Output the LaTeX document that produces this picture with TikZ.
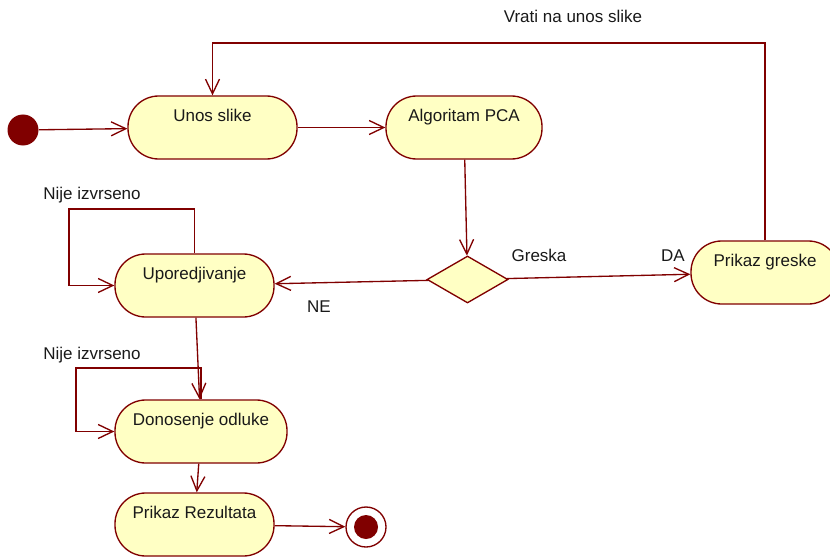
\documentclass[tikz,border=0pt]{standalone}
\usepackage{fontspec}
\setmainfont{Liberation Sans}
\usepackage{tikz}
\usetikzlibrary{arrows.meta}
\usetikzlibrary{shapes.geometric}

\definecolor{umlred}{RGB}{128,0,0}
\definecolor{umlfill}{RGB}{255,255,196}

\begin{document}
\begin{tikzpicture}
[x=0.75pt,y=-0.75pt,>={Straight Barb[length=11pt,width=10.5pt]},
 every node/.style={font=\fontsize{12.75}{15}\selectfont,text=black!90},
 act/.style={draw=umlred,fill=umlfill,line width=1pt,rounded corners=23pt,inner sep=0pt,minimum height=47.25pt,text height=19pt,text depth=28.25pt},
 cond/.style={diamond,draw=umlred,fill=umlfill,line width=1pt,inner sep=0pt,minimum width=60.75pt,minimum height=35.25pt},
 start/.style={circle,fill=umlred,inner sep=0pt,minimum size=23.25pt},
 stop/.style={circle,draw=umlred,fill=white,line width=1pt,inner sep=0pt,minimum size=30pt},
 stopdot/.style={circle,fill=umlred,inner sep=0pt,minimum size=18pt},
 flow/.style={->,draw=umlred,line width=1pt}]

\clip (0,0) rectangle (830,556);

\node[start] (start) at (23,130) {};
\node[act,minimum width=126.75pt] (unos) at (212.5,127.5) {Unos slike};
\node[act,minimum width=117pt] (pca) at (464,127.5) {Algoritam PCA};
\node[cond] (dec) at (467.5,279.5) {};
\node[act,minimum width=111pt] (greske) at (765,272.5) {Prikaz greske};
\node[act,minimum width=119.25pt] (upor) at (194.5,285.5) {Uporedjivanje};
\node[act,minimum width=129pt] (odl) at (201,431.5) {Donosenje odluke};
\node[act,minimum width=119.25pt] (rez) at (194.5,524.5) {Prikaz Rezultata};
\node[stop] (stop) at (366,527) {};
\node[stopdot] (stopdot) at (stop) {};

\node (vrati) at (573,16) {Vrati na unos slike};
\node (nije1) at (92,195) {Nije izvrseno};
\node (nije2) at (92,355) {Nije izvrseno};
\node (greska) at (539,255) {Greska};
\node (da) at (673,256) {DA};
\node (ne) at (319,307) {NE};

\coordinate (turn) at (765,43);
\coordinate (loopA) at (69,209);
\coordinate (loopB) at (76,368);

\draw[flow] (start) -- (unos);
\draw[flow] (unos) -- (pca);
\draw[flow] (pca) -- (dec);
\draw[flow] (dec) -- (upor);
\draw[flow] (dec) -- (greske);
\draw[flow] (greske.north) -- (turn) -| (unos.north);
\draw[flow] (upor.north) |- (loopA) |- (upor.west);
\draw[flow] (upor) -- (odl);
\draw[flow] (odl.north) |- (loopB) |- (odl.west);
\draw[flow] (odl) -- (rez);
\draw[flow] (rez) -- (stop);
\end{tikzpicture}
\end{document}
